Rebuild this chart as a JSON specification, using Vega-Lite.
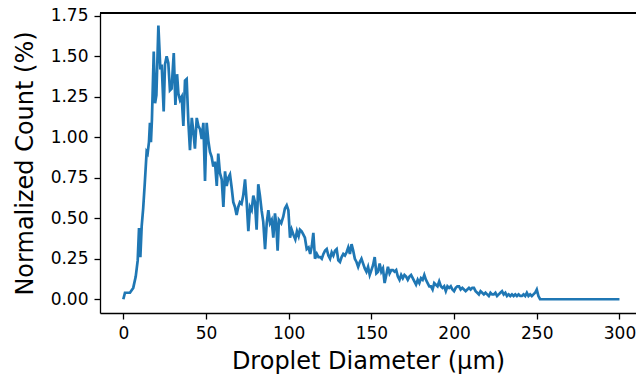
{
  "$schema": "https://vega.github.io/schema/vega-lite/v6.json",
  "width": 536,
  "height": 300,
  "autosize": "none",
  "padding": {"left": 100, "top": 13, "right": 0, "bottom": 62},
  "background": "white",
  "config": {
    "view": {"stroke": null},
    "font": "DejaVu Sans",
    "axis": {
      "labelFont": "DejaVu Sans",
      "titleFont": "DejaVu Sans",
      "labelFontSize": 17,
      "titleFontSize": 24,
      "titleFontWeight": "normal",
      "labelColor": "#000000",
      "titleColor": "#000000",
      "domainColor": "#000000",
      "tickColor": "#000000",
      "domainWidth": 1.3,
      "tickWidth": 1.3,
      "tickSize": 6,
      "labelPadding": 6,
      "grid": false
    }
  },
  "data": {
    "values": [
      {"d": 0, "p": 0.00}, {"d": 1, "p": 0.04}, {"d": 4, "p": 0.04}, {"d": 6, "p": 0.07},
      {"d": 7.5, "p": 0.14}, {"d": 8.7, "p": 0.24}, {"d": 9.5, "p": 0.44}, {"d": 10.3, "p": 0.26},
      {"d": 11.1, "p": 0.45}, {"d": 12, "p": 0.56}, {"d": 13, "p": 0.72}, {"d": 14.1, "p": 0.91},
      {"d": 14.7, "p": 0.90}, {"d": 15.5, "p": 0.97}, {"d": 16.1, "p": 1.09}, {"d": 16.7, "p": 0.97},
      {"d": 17.3, "p": 1.11}, {"d": 18.4, "p": 1.53}, {"d": 19.2, "p": 1.21}, {"d": 20, "p": 1.26},
      {"d": 21.2, "p": 1.69}, {"d": 22.4, "p": 1.42}, {"d": 23.2, "p": 1.45}, {"d": 24.4, "p": 1.16},
      {"d": 25.2, "p": 1.45}, {"d": 26.2, "p": 1.50}, {"d": 27.2, "p": 1.46}, {"d": 28.2, "p": 1.29},
      {"d": 29.2, "p": 1.30}, {"d": 30.5, "p": 1.52}, {"d": 31.5, "p": 1.20}, {"d": 32.5, "p": 1.39},
      {"d": 33.3, "p": 1.27}, {"d": 34.3, "p": 1.23}, {"d": 35.3, "p": 1.25}, {"d": 36.3, "p": 1.07},
      {"d": 37.3, "p": 1.35}, {"d": 38.3, "p": 1.36}, {"d": 39.3, "p": 1.10}, {"d": 40.3, "p": 0.92},
      {"d": 41.4, "p": 1.12}, {"d": 42.4, "p": 1.03}, {"d": 43.3, "p": 0.93}, {"d": 44.4, "p": 1.12},
      {"d": 45.4, "p": 1.07}, {"d": 46.4, "p": 1.05}, {"d": 47.4, "p": 0.99}, {"d": 48.4, "p": 1.09},
      {"d": 49.4, "p": 0.73}, {"d": 50.4, "p": 1.09}, {"d": 51.4, "p": 0.98}, {"d": 52.4, "p": 0.91},
      {"d": 53.4, "p": 0.88}, {"d": 54.4, "p": 0.82}, {"d": 55.4, "p": 0.85}, {"d": 56.5, "p": 0.70},
      {"d": 57.4, "p": 0.90}, {"d": 58.4, "p": 0.78}, {"d": 59.5, "p": 0.74}, {"d": 60.5, "p": 0.57},
      {"d": 61.5, "p": 0.79}, {"d": 62.5, "p": 0.70}, {"d": 63.5, "p": 0.75}, {"d": 64.5, "p": 0.77},
      {"d": 65.5, "p": 0.69}, {"d": 66.5, "p": 0.60}, {"d": 67.5, "p": 0.57}, {"d": 68.5, "p": 0.52},
      {"d": 69.5, "p": 0.57}, {"d": 70.5, "p": 0.60}, {"d": 71.5, "p": 0.59}, {"d": 72.5, "p": 0.64},
      {"d": 73.6, "p": 0.74}, {"d": 74.6, "p": 0.60}, {"d": 75.6, "p": 0.42}, {"d": 76.6, "p": 0.57},
      {"d": 77.6, "p": 0.55}, {"d": 78.6, "p": 0.64}, {"d": 79.6, "p": 0.60}, {"d": 80.6, "p": 0.43},
      {"d": 81.6, "p": 0.71}, {"d": 82.6, "p": 0.64}, {"d": 83.6, "p": 0.55}, {"d": 84.6, "p": 0.48},
      {"d": 85.7, "p": 0.31}, {"d": 86.7, "p": 0.47}, {"d": 87.7, "p": 0.55}, {"d": 88.7, "p": 0.47},
      {"d": 89.7, "p": 0.49}, {"d": 90.7, "p": 0.38}, {"d": 91.7, "p": 0.53}, {"d": 92.5, "p": 0.46},
      {"d": 93.3, "p": 0.30}, {"d": 94.1, "p": 0.49}, {"d": 95.5, "p": 0.47}, {"d": 96.7, "p": 0.51},
      {"d": 97.7, "p": 0.56}, {"d": 98.8, "p": 0.58}, {"d": 99.8, "p": 0.55}, {"d": 100.8, "p": 0.38},
      {"d": 101.8, "p": 0.43}, {"d": 102.8, "p": 0.40}, {"d": 104, "p": 0.37}, {"d": 105, "p": 0.42},
      {"d": 106, "p": 0.39}, {"d": 106.8, "p": 0.43}, {"d": 107.8, "p": 0.42}, {"d": 108.8, "p": 0.40},
      {"d": 109.8, "p": 0.38}, {"d": 110.9, "p": 0.31}, {"d": 112, "p": 0.32}, {"d": 113, "p": 0.28},
      {"d": 114, "p": 0.33}, {"d": 114.9, "p": 0.41}, {"d": 115.9, "p": 0.25}, {"d": 117, "p": 0.28},
      {"d": 118, "p": 0.26}, {"d": 119, "p": 0.26}, {"d": 120, "p": 0.25}, {"d": 121, "p": 0.28},
      {"d": 122, "p": 0.30}, {"d": 123, "p": 0.31}, {"d": 124, "p": 0.27}, {"d": 125, "p": 0.25},
      {"d": 126, "p": 0.29}, {"d": 127, "p": 0.27}, {"d": 128, "p": 0.30}, {"d": 129, "p": 0.31},
      {"d": 130, "p": 0.24}, {"d": 131, "p": 0.23}, {"d": 132, "p": 0.26}, {"d": 133, "p": 0.28},
      {"d": 134, "p": 0.27}, {"d": 135, "p": 0.29}, {"d": 136, "p": 0.32}, {"d": 137, "p": 0.28},
      {"d": 138, "p": 0.34}, {"d": 139, "p": 0.30}, {"d": 140, "p": 0.25}, {"d": 141, "p": 0.23},
      {"d": 142, "p": 0.20}, {"d": 143, "p": 0.23}, {"d": 144, "p": 0.25}, {"d": 145, "p": 0.22},
      {"d": 146, "p": 0.19}, {"d": 147, "p": 0.17}, {"d": 148, "p": 0.20}, {"d": 149, "p": 0.15},
      {"d": 150, "p": 0.18}, {"d": 151, "p": 0.21}, {"d": 152, "p": 0.26}, {"d": 153, "p": 0.16},
      {"d": 154, "p": 0.17}, {"d": 155, "p": 0.22}, {"d": 156, "p": 0.17}, {"d": 157, "p": 0.19},
      {"d": 158, "p": 0.10}, {"d": 159, "p": 0.15}, {"d": 160, "p": 0.20}, {"d": 161, "p": 0.16},
      {"d": 162, "p": 0.18}, {"d": 163, "p": 0.18}, {"d": 164, "p": 0.17}, {"d": 165, "p": 0.18},
      {"d": 166, "p": 0.14}, {"d": 167, "p": 0.12}, {"d": 168, "p": 0.15}, {"d": 169, "p": 0.13},
      {"d": 170, "p": 0.15}, {"d": 171, "p": 0.14}, {"d": 172, "p": 0.12}, {"d": 173, "p": 0.14},
      {"d": 174, "p": 0.15}, {"d": 175, "p": 0.13}, {"d": 176, "p": 0.11}, {"d": 177, "p": 0.09},
      {"d": 178, "p": 0.12}, {"d": 179, "p": 0.10}, {"d": 180, "p": 0.13}, {"d": 181, "p": 0.12},
      {"d": 182, "p": 0.15}, {"d": 183, "p": 0.12}, {"d": 184, "p": 0.10}, {"d": 185, "p": 0.08},
      {"d": 186, "p": 0.08}, {"d": 187, "p": 0.06}, {"d": 188, "p": 0.10}, {"d": 189, "p": 0.09},
      {"d": 190, "p": 0.08}, {"d": 191, "p": 0.11}, {"d": 192, "p": 0.08}, {"d": 193, "p": 0.07},
      {"d": 194, "p": 0.08}, {"d": 195, "p": 0.05}, {"d": 196, "p": 0.08}, {"d": 197, "p": 0.07},
      {"d": 198, "p": 0.08}, {"d": 199, "p": 0.06}, {"d": 200, "p": 0.05}, {"d": 201, "p": 0.07},
      {"d": 202, "p": 0.08}, {"d": 203, "p": 0.08}, {"d": 204, "p": 0.06}, {"d": 205, "p": 0.07},
      {"d": 206, "p": 0.06}, {"d": 207, "p": 0.05}, {"d": 208, "p": 0.06}, {"d": 209, "p": 0.07},
      {"d": 210, "p": 0.06}, {"d": 211, "p": 0.07}, {"d": 212, "p": 0.07}, {"d": 213, "p": 0.05},
      {"d": 214, "p": 0.04}, {"d": 215, "p": 0.03}, {"d": 216, "p": 0.05}, {"d": 217, "p": 0.04},
      {"d": 218, "p": 0.03}, {"d": 219, "p": 0.04}, {"d": 220, "p": 0.03}, {"d": 221, "p": 0.02},
      {"d": 222, "p": 0.04}, {"d": 223, "p": 0.03}, {"d": 224, "p": 0.03}, {"d": 225, "p": 0.04},
      {"d": 226, "p": 0.02}, {"d": 227, "p": 0.03}, {"d": 228, "p": 0.04}, {"d": 229, "p": 0.05},
      {"d": 230, "p": 0.03}, {"d": 231, "p": 0.04}, {"d": 232, "p": 0.02}, {"d": 233, "p": 0.03},
      {"d": 234, "p": 0.02}, {"d": 235, "p": 0.03}, {"d": 236, "p": 0.02}, {"d": 237, "p": 0.03},
      {"d": 238, "p": 0.02}, {"d": 239, "p": 0.03}, {"d": 240, "p": 0.02}, {"d": 241, "p": 0.02},
      {"d": 242, "p": 0.03}, {"d": 243, "p": 0.02}, {"d": 244, "p": 0.04}, {"d": 245, "p": 0.02},
      {"d": 246, "p": 0.03}, {"d": 247, "p": 0.02}, {"d": 248, "p": 0.03}, {"d": 249, "p": 0.04},
      {"d": 250, "p": 0.06}, {"d": 251, "p": 0.02}, {"d": 252, "p": 0.00}, {"d": 300, "p": 0.00}
    ]
  },
  "layer": [
    {
      "mark": {"type": "line", "color": "#1f77b4", "strokeWidth": 2.7, "clip": true},
      "encoding": {
        "x": {
          "field": "d", "type": "quantitative",
          "scale": {"domain": [-14.1, 310], "nice": false, "zero": false},
          "axis": {"values": [0, 50, 100, 150, 200, 250, 300], "format": "d", "title": "Droplet Diameter (µm)", "titlePadding": 8}
        },
        "y": {
          "field": "p", "type": "quantitative",
          "scale": {"domain": [-0.085, 1.768], "nice": false, "zero": false},
          "axis": {"values": [0, 0.25, 0.5, 0.75, 1, 1.25, 1.5, 1.75], "format": ".2f", "title": "Normalized Count (%)", "titlePadding": 13}
        }
      }
    },
    {
      "mark": {"type": "rule", "color": "#000000", "strokeWidth": 1.3},
      "encoding": {"y": {"datum": 1.768}}
    }
  ]
}
